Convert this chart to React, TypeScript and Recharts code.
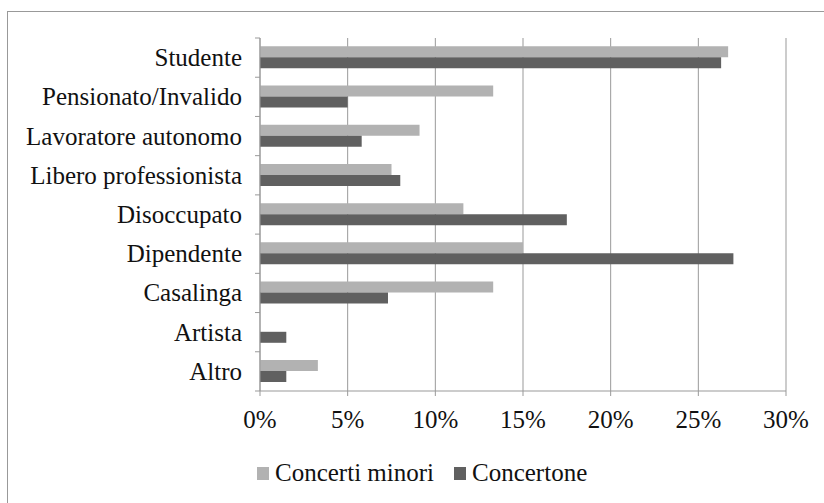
import React from "react";
import { BarChart, Bar, XAxis, YAxis, CartesianGrid } from "recharts";

// Occupation categories, top to bottom
const categories = [
  "Studente",
  "Pensionato/Invalido",
  "Lavoratore autonomo",
  "Libero professionista",
  "Disoccupato",
  "Dipendente",
  "Casalinga",
  "Artista",
  "Altro",
];

// Share of respondents (%) per series
const concertiMinori = [26.7, 13.3, 9.1, 7.5, 11.6, 15.0, 13.3, 0, 3.3];
const concertone = [26.3, 5.0, 5.8, 8.0, 17.5, 27.0, 7.3, 1.5, 1.5];

const seriesNames = ["Concerti minori", "Concertone"];
const seriesColors = ["#b2b2b2", "#606060"];

const xTicks = [0, 5, 10, 15, 20, 25, 30];

const data = categories.map((name, i) => ({
  name,
  minori: concertiMinori[i],
  concertone: concertone[i],
}));

const FONT =
  "'Liberation Serif', 'DejaVu Serif', 'Noto Serif', 'Times New Roman', Times, serif";
const W = 824;
const H = 503;
const PLOT_TOP = 38;
const PLOT_BOTTOM = 391;
const AXIS_X = 260;
const BAND = (PLOT_BOTTOM - PLOT_TOP) / categories.length;

const CategoryTick = (props: any) => {
  const { y, payload, index } = props;
  const top = y - BAND / 2;
  return (
    <g>
      <line x1={AXIS_X - 5} x2={AXIS_X} y1={top} y2={top} stroke="#999" />
      {index === categories.length - 1 && (
        <line
          x1={AXIS_X - 5}
          x2={AXIS_X}
          y1={top + BAND}
          y2={top + BAND}
          stroke="#999"
        />
      )}
      <text
        x={242}
        y={y}
        textAnchor="end"
        dominantBaseline="central"
        fontFamily={FONT}
        fontSize={25}
        fill="#111"
      >
        {payload.value}
      </text>
    </g>
  );
};

const PercentTick = (props: any) => {
  const { x, y, payload } = props;
  return (
    <text
      x={x}
      y={y}
      dy={17}
      textAnchor="middle"
      fontFamily={FONT}
      fontSize={25}
      fill="#111"
    >
      {`${payload.value}%`}
    </text>
  );
};

export default function App() {
  return (
    <div
      style={{
        position: "absolute",
        left: 0,
        top: 0,
        width: W,
        height: H,
        background: "#fff",
        overflow: "hidden",
        fontFamily: FONT,
      }}
    >
      <div
        style={{
          position: "absolute",
          left: 7,
          top: 11,
          width: W - 7,
          height: H - 11,
          borderLeft: "1px solid #999",
          borderTop: "1px solid #999",
          boxSizing: "border-box",
        }}
      />
      <div style={{ position: "absolute", left: 0, top: 0 }}>
        <BarChart
          width={W}
          height={H}
          data={data}
          layout="vertical"
          margin={{ top: PLOT_TOP, right: W - 786, bottom: H - PLOT_BOTTOM - 30, left: 0 }}
          barCategoryGap="21%"
          barGap={0}
        >
          <CartesianGrid horizontal={false} stroke="#999" />
          <XAxis
            type="number"
            domain={[0, 30]}
            ticks={xTicks}
            height={30}
            stroke="#999"
            tickSize={5}
            tickMargin={15}
            tick={<PercentTick />}
            interval={0}
          />
          <YAxis
            type="category"
            dataKey="name"
            width={AXIS_X}
            stroke="#999"
            tickLine={false}
            tick={<CategoryTick />}
            interval={0}
          />
          <Bar
            dataKey="minori"
            name={seriesNames[0]}
            fill={seriesColors[0]}
            isAnimationActive={false}
          />
          <Bar
            dataKey="concertone"
            name={seriesNames[1]}
            fill={seriesColors[1]}
            isAnimationActive={false}
          />
        </BarChart>
      </div>
      <div
        style={{
          position: "absolute",
          left: 257,
          top: 459,
          display: "flex",
          alignItems: "center",
          fontFamily: FONT,
          fontSize: 25,
          color: "#111",
          whiteSpace: "nowrap",
        }}
      >
        {seriesNames.map((s, i) => (
          <div
            key={s}
            style={{ display: "flex", alignItems: "center", marginRight: 20 }}
          >
            <span
              style={{
                display: "inline-block",
                width: 12,
                height: 13,
                background: seriesColors[i],
                marginRight: 6,
              }}
            />
            <span>{s}</span>
          </div>
        ))}
      </div>
    </div>
  );
}
